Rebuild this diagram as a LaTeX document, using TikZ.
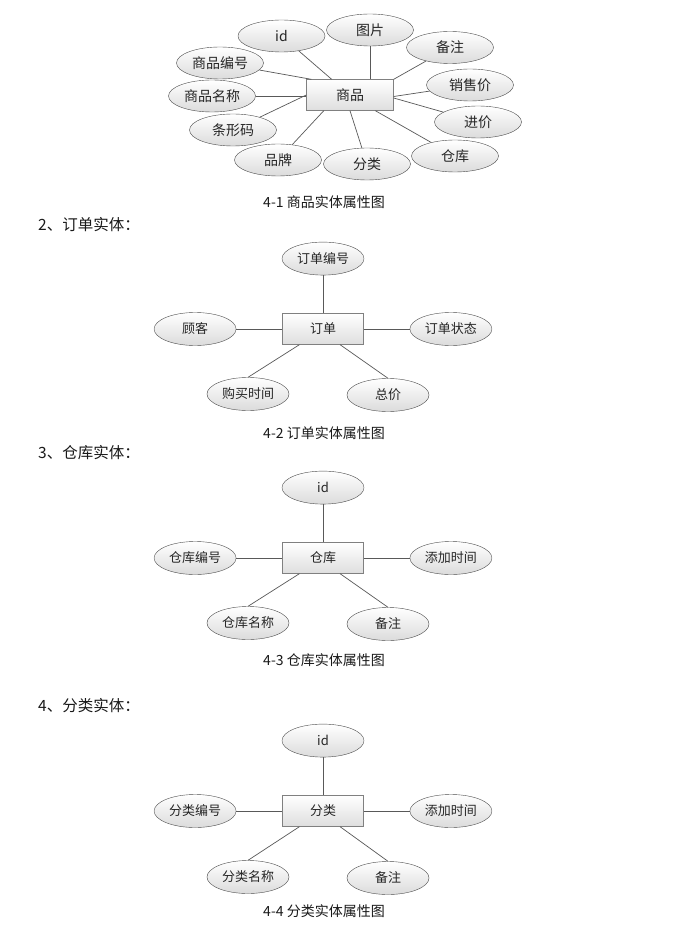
\documentclass[tikz,border=0pt]{standalone}
\usepackage{fontspec}
\setmainfont{Noto Sans CJK SC}
\usepackage{xcolor}
\usetikzlibrary{shapes.geometric,positioning,calc}

\begin{document}
\begin{tikzpicture}[
    x=1pt, y=1pt,
    node distance=38pt and 46pt,
    ent/.style={rectangle, draw=black!50, top color=white, bottom color=black!13, minimum width=81pt, minimum height=31pt, inner sep=0pt, text=black!85, font=\fontsize{13}{13}\selectfont},
    entbig/.style={ent, minimum width=87pt, font=\fontsize{14}{14}\selectfont},
    attr/.style={ellipse, draw=black!70, top color=white, bottom color=black!14, minimum width=82pt, minimum height=33pt, inner sep=0pt, text=black!85, font=\fontsize{13}{13}\selectfont},
    attrbig/.style={attr, minimum width=87pt, minimum height=32pt, font=\fontsize{14}{14}\selectfont},
    lnk/.style={draw=black!65, line width=0.7pt},
    figcap/.style={inner sep=0pt, text=black!90, font=\fontsize{14}{14}\selectfont},
    head/.style={anchor=west, inner sep=0pt, text=black!90, font=\fontsize{15.5}{15.5}\selectfont}
]
    \useasboundingbox [fill=white] (0,0) rectangle (685,-925);

    % 4-1 goods
    \node [entbig] (sp) at (350,-95) {商品};
    \node [attrbig] (id1) at (281.5,-36) {id};
    \node [attrbig] (tp) at (370,-30) {图片};
    \node [attrbig] (bz1) at (450,-47.5) {备注};
    \node [attrbig] (bh1) at (220,-63) {商品编号};
    \node [attrbig] (xs) at (470,-85) {销售价};
    \node [attrbig] (mc1) at (212,-96) {商品名称};
    \node [attrbig] (jj) at (478,-122) {进价};
    \node [attrbig] (txm) at (233,-130) {条形码};
    \node [attrbig] (pp) at (278,-160) {品牌};
    \node [attrbig] (fl1) at (367,-164) {分类};
    \node [attrbig] (ck1) at (455,-156) {仓库};

    \draw [lnk] (id1) -- ($(sp.north west)!0.29!(sp.north east)$);
    \draw [lnk] (tp) -- (tp |- sp.north);
    \draw [lnk] (bz1) -- (sp.north east);
    \draw [lnk] (bh1) -- ($(sp.north west)+(5,0)$);
    \draw [lnk] (xs) -- ($(sp.east)+(0,-1.5)$);
    \draw [lnk] (mc1) -- (mc1 -| sp.west);
    \draw [lnk] (jj) -- ($(sp.east)+(0,-3)$);
    \draw [lnk] (txm) -- (sp.west);
    \draw [lnk] (pp) -- ($(sp.south west)!0.2!(sp.south east)$);
    \draw [lnk] (fl1) -- (sp.south);
    \draw [lnk] (ck1) -- ($(sp.south west)!0.79!(sp.south east)$);

    \node [figcap] (c1) at (324,-202.5) {4-1 商品实体属性图};
    \node [head] (h2) at (38,-225) {2、订单实体：};

    % 4-2 order
    \node [ent] (dd) at (323,-329) {订单};
    \node [attr, above=of dd] (ddbh) {订单编号};
    \node [attr, left=of dd] (gk) {顾客};
    \node [attr, right=of dd] (zt) {订单状态};
    \node [attr] (gm) at ($(dd)+(-75,-65)$) {购买时间};
    \node [attr] (zj) at ($(dd)+(65,-66)$) {总价};

    \draw [lnk] (ddbh) -- (dd);
    \draw [lnk] (gk) -- (dd);
    \draw [lnk] (zt) -- (dd);
    \draw [lnk] (gm.north) -- ($(dd.south west)!0.21!(dd.south east)$);
    \draw [lnk] (zj.north) -- ($(dd.south west)!0.71!(dd.south east)$);

    \node [figcap] (c2) at (324,-433) {4-2 订单实体属性图};
    \node [head] (h3) at (38,-453) {3、仓库实体：};

    % 4-3 warehouse
    \node [ent] (ck) at (323,-558) {仓库};
    \node [attr, above=of ck] (ckid) {id};
    \node [attr, left=of ck] (ckbh) {仓库编号};
    \node [attr, right=of ck] (cksj) {添加时间};
    \node [attr] (ckmc) at ($(ck)+(-75,-65)$) {仓库名称};
    \node [attr] (ckbz) at ($(ck)+(65,-66)$) {备注};

    \draw [lnk] (ckid) -- (ck);
    \draw [lnk] (ckbh) -- (ck);
    \draw [lnk] (cksj) -- (ck);
    \draw [lnk] (ckmc.north) -- ($(ck.south west)!0.21!(ck.south east)$);
    \draw [lnk] (ckbz.north) -- ($(ck.south west)!0.71!(ck.south east)$);

    \node [figcap] (c3) at (324,-660) {4-3 仓库实体属性图};
    \node [head] (h4) at (38,-706) {4、分类实体：};

    % 4-4 category
    \node [ent] (fl) at (323,-811) {分类};
    \node [attr, above=of fl] (flid) {id};
    \node [attr, left=of fl] (flbh) {分类编号};
    \node [attr, right=of fl] (flsj) {添加时间};
    \node [attr] (flmc) at ($(fl)+(-75,-66)$) {分类名称};
    \node [attr] (flbz) at ($(fl)+(65,-67)$) {备注};

    \draw [lnk] (flid) -- (fl);
    \draw [lnk] (flbh) -- (fl);
    \draw [lnk] (flsj) -- (fl);
    \draw [lnk] (flmc.north) -- ($(fl.south west)!0.21!(fl.south east)$);
    \draw [lnk] (flbz.north) -- ($(fl.south west)!0.71!(fl.south east)$);

    \node [figcap] (c4) at (324,-911.5) {4-4 分类实体属性图};
\end{tikzpicture}
\end{document}
